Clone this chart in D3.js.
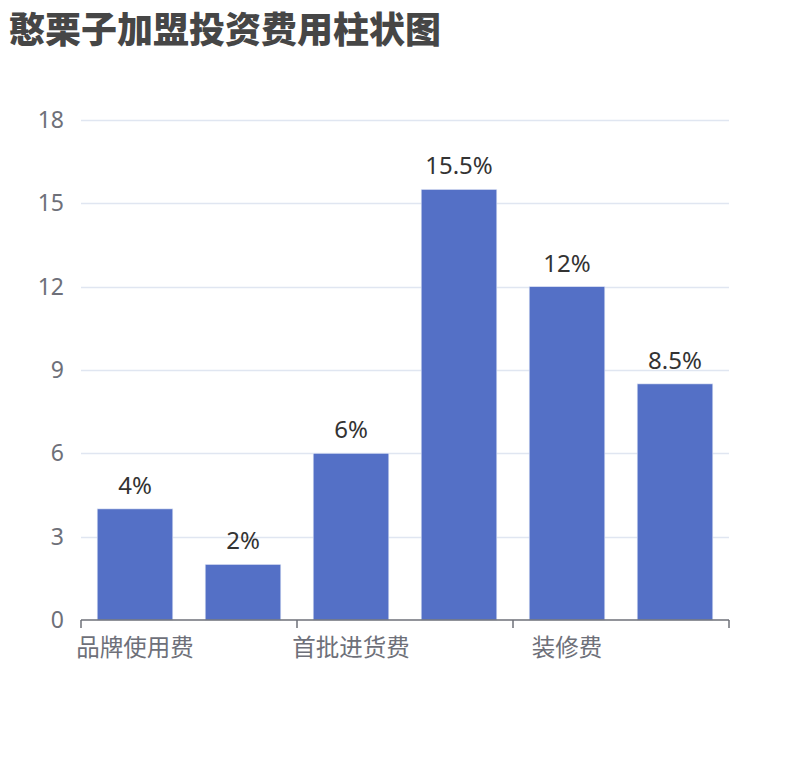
<!DOCTYPE html>
<html><head><meta charset="utf-8">
<script src="https://cdn.jsdelivr.net/npm/d3@7/dist/d3.min.js"></script>
<style>body{margin:0;background:#fff;}svg{display:block;font-family:"Noto Sans","Noto Sans CJK SC",sans-serif;}</style>
</head><body>
<script>
const title = "憨栗子加盟投资费用柱状图";
const categories = ["品牌使用费", "保证金", "首批进货费", "设备费", "装修费", "其他费用"];
const values = [4, 2, 6, 15.5, 12, 8.5];
const valueLabels = ["4%", "2%", "6%", "15.5%", "12%", "8.5%"];
const yTicks = [0, 3, 6, 9, 12, 15, 18];

const W = 810, H = 760;
const m = {left: 81, right: 81, top: 120, bottom: 140};
const svg = d3.select("body").append("svg").attr("width", W).attr("height", H);

svg.append("text").attr("x", 9).attr("y", 42.5).text(title)
  .attr("font-size", 36).attr("font-weight", "900").attr("fill", "#464646")
  .attr("font-family", "'Noto Sans CJK SC',sans-serif");

const x = d3.scaleBand().domain(categories).range([m.left, W - m.right]).paddingInner(0).paddingOuter(0);
const y = d3.scaleLinear().domain([0, 18]).range([H - m.bottom, m.top]);

// grid
svg.append("g").selectAll("line").data(yTicks.filter(d => d > 0)).join("line")
  .attr("x1", m.left).attr("x2", W - m.right)
  .attr("y1", d => Math.round(y(d)) + 0.5).attr("y2", d => Math.round(y(d)) + 0.5)
  .attr("stroke", "#e0e6f1").attr("stroke-width", 1.5);

// y labels
const yAxis = d3.axisLeft(y).tickValues(yTicks).tickSize(0).tickPadding(17);
const gy = svg.append("g").attr("transform", `translate(${m.left},0)`).call(yAxis);
gy.select(".domain").remove();
gy.selectAll("text").attr("font-size", 23).attr("fill", "#6e7079")
  .attr("font-family", "'Noto Sans',sans-serif");

// bars
const bw = x.bandwidth() * 0.7;
svg.append("g").selectAll("rect").data(values).join("rect")
  .attr("x", (d, i) => x(categories[i]) + (x.bandwidth() - bw) / 2)
  .attr("width", bw)
  .attr("y", d => y(d)).attr("height", d => y(0) - y(d))
  .attr("fill", "#5470c6").attr("stroke", "#dfe5f5").attr("stroke-width", 0.6);

// value labels
svg.append("g").selectAll("text").data(values).join("text")
  .attr("x", (d, i) => x(categories[i]) + x.bandwidth() / 2)
  .attr("y", d => y(d) - 15)
  .attr("text-anchor", "middle").attr("font-size", 24).attr("fill", "#333")
  .attr("font-family", "'Noto Sans',sans-serif")
  .text((d, i) => valueLabels[i]);

// x axis
const gx = svg.append("g").attr("transform", `translate(0,${y(0)})`);
gx.append("line").attr("x1", m.left).attr("x2", W - m.right).attr("stroke", "#6e7079").attr("stroke-width", 1.5);
const tickPos = [0, 2, 4, 6].map(i => m.left + i * x.bandwidth());
gx.selectAll("line.t").data(tickPos).join("line").attr("class", "t")
  .attr("x1", d => d).attr("x2", d => d).attr("y1", 0).attr("y2", 8)
  .attr("stroke", "#6e7079").attr("stroke-width", 1.5);
gx.selectAll("text").data(categories.filter((c, i) => i % 2 === 0)).join("text")
  .attr("x", d => x(d) + x.bandwidth() / 2).attr("y", 36)
  .attr("text-anchor", "middle").attr("font-size", 23.5).attr("fill", "#6e7079")
  .attr("font-family", "'Noto Sans CJK SC',sans-serif")
  .text(d => d);
</script>
</body></html>
